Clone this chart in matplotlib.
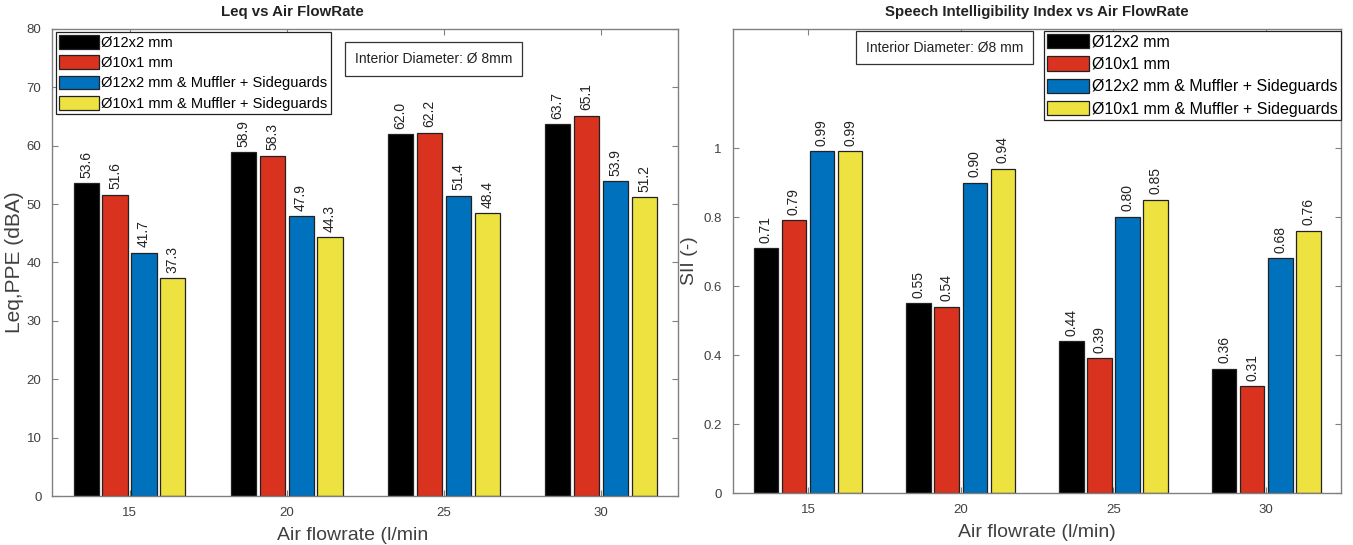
import matplotlib
matplotlib.use("Agg")
import matplotlib.pyplot as plt
import numpy as np

plt.rcParams['font.family'] = ['Liberation Sans', 'DejaVu Sans']

flowrates = [15, 20, 25, 30]
series_names = ['Ø12x2 mm', 'Ø10x1 mm',
                'Ø12x2 mm & Muffler + Sideguards',
                'Ø10x1 mm & Muffler + Sideguards']
colors = ['#000000', '#D9321F', '#0072BD', '#EDE240']

leq_12x2 = [53.6, 58.9, 62.0, 63.7]
leq_10x1 = [51.6, 58.3, 62.2, 65.1]
leq_12x2_muffler = [41.7, 47.9, 51.4, 53.9]
leq_10x1_muffler = [37.3, 44.3, 48.4, 51.2]

sii_12x2 = [0.71, 0.55, 0.44, 0.36]
sii_10x1 = [0.79, 0.54, 0.39, 0.31]
sii_12x2_muffler = [0.99, 0.90, 0.80, 0.68]
sii_10x1_muffler = [0.99, 0.94, 0.85, 0.76]

axis_gray = '#808080'
text_gray = '#404040'


def grouped_bars(ax, series, fmt):
    x = np.array(flowrates, dtype=float)
    step = 0.92
    width = 0.80
    bars = []
    for i, vals in enumerate(series):
        pos = x + (i - 1.5) * step
        b = ax.bar(pos, vals, width, color=colors[i], edgecolor='#222222',
                   linewidth=0.9, label=series_names[i], zorder=2)
        bars.append(b)
        for p, v in zip(pos, vals):
            ax.annotate(fmt.format(v), (p, v), xytext=(0, 4),
                        textcoords='offset points', rotation=90,
                        ha='center', va='bottom', fontsize=10,
                        color='#222222')
    return bars


def style_axes(ax):
    ax.set_xlim(12.55, 32.45)
    ax.set_xticks(flowrates)
    ax.tick_params(direction='in', length=4, colors=axis_gray,
                   labelcolor=text_gray, labelsize=9.5, top=True, right=True,
                   pad=8)
    for s in ax.spines.values():
        s.set_color(axis_gray)
        s.set_linewidth(1.0)


fig = plt.figure(figsize=(13.53, 5.45), dpi=100)

# left: equivalent level
ax1 = fig.add_axes([0.0388, 0.0899, 0.4623, 0.8569])
grouped_bars(ax1, [leq_12x2, leq_10x1, leq_12x2_muffler, leq_10x1_muffler],
             '{:.1f}')
style_axes(ax1)
ax1.set_ylim(0, 80)
ax1.set_yticks(range(0, 81, 10))
ax1.set_title('Leq vs Air FlowRate', fontsize=10.8, fontweight='bold',
              color='#222222', pad=9, x=0.383)
ax1.set_xlabel('Air flowrate (l/min', fontsize=14, color=text_gray,
               labelpad=6, x=0.48)
ax1.set_ylabel('Leq,PPE (dBA)', fontsize=15, color=text_gray, labelpad=2)
leg1 = ax1.legend(loc='upper left', bbox_to_anchor=(0.006, 0.993),
                  fontsize=10.5, handlelength=2.7, handleheight=1.05,
                  handletextpad=0.2, labelspacing=0.38, borderpad=0.2,
                  borderaxespad=0, fancybox=False, framealpha=1)
leg1.get_frame().set_edgecolor('#222222')
leg1.get_frame().set_linewidth(0.9)
ax1.text(0.4836, 0.936, 'Interior Diameter: Ø 8mm', transform=ax1.transAxes,
         fontsize=10, color='#222222', ha='left', va='center',
         bbox=dict(boxstyle='square,pad=0.7', fc='white', ec='#333333',
                   lw=0.9))

# right: speech intelligibility index
ax2 = fig.add_axes([0.5418, 0.0954, 0.4494, 0.8514])
grouped_bars(ax2, [sii_12x2, sii_10x1, sii_12x2_muffler, sii_10x1_muffler],
             '{:.2f}')
style_axes(ax2)
ax2.set_ylim(0, 1.345)
ax2.set_yticks([0, 0.2, 0.4, 0.6, 0.8, 1.0])
ax2.set_yticklabels(['0', '0.2', '0.4', '0.6', '0.8', '1'])
ax2.set_title('Speech Intelligibility Index vs Air FlowRate', fontsize=10.8,
              fontweight='bold', color='#222222', pad=9)
ax2.set_xlabel('Air flowrate (l/min)', fontsize=14, color=text_gray,
               labelpad=6)
ax2.set_ylabel('SII (-)', fontsize=14, color=text_gray, labelpad=4)
leg2 = ax2.legend(loc='upper right', bbox_to_anchor=(1.0, 0.996),
                  fontsize=11.5, handlelength=2.6, handleheight=1.0,
                  handletextpad=0.2, labelspacing=0.42, borderpad=0.2,
                  borderaxespad=0, fancybox=False, framealpha=1)
leg2.get_frame().set_edgecolor('#222222')
leg2.get_frame().set_linewidth(0.9)
ax2.text(0.219, 0.960, 'Interior Diameter: Ø8 mm', transform=ax2.transAxes,
         fontsize=10, color='#222222', ha='left', va='center',
         bbox=dict(boxstyle='square,pad=0.7', fc='white', ec='#333333',
                   lw=0.9))

fig.savefig('out.png', dpi=100)
